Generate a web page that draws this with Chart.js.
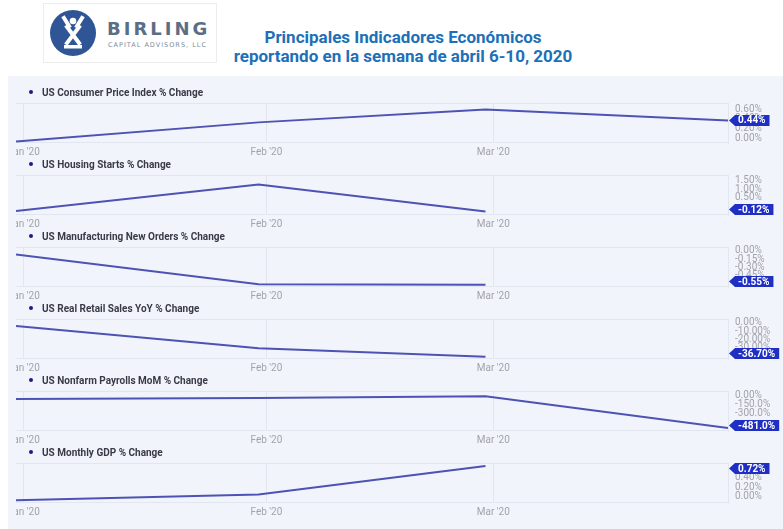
<!DOCTYPE html>
<html>
<head>
<meta charset="utf-8">
<script src="https://cdn.jsdelivr.net/npm/chart.js@4.4.1/dist/chart.umd.min.js"></script>
<style>
  body { margin: 0; width: 783px; height: 529px; background: #fff; position: relative; overflow: hidden; font-family: Roboto, sans-serif; }
  #logo { position: absolute; left: 43px; top: 3px; width: 172px; height: 58px; border: 1px solid #ededed; background: #fff; }
  #logo svg { position: absolute; left: 6px; top: 4px; }
  #logo .name { position: absolute; left: 63px; top: 14px; font: bold 18px "DejaVu Sans", sans-serif; letter-spacing: 3px; color: #5a6e86; }
  #logo .sub { position: absolute; left: 64px; top: 37px; font: 6.5px "DejaVu Sans", sans-serif; letter-spacing: 1px; color: #7d8c9c; }
  #title { position: absolute; left: 200px; width: 406px; top: 28px; text-align: center; font: bold 17px Roboto, sans-serif; line-height: 19px; color: #1d70b8; }
  #board { position: absolute; left: 8px; top: 76px; width: 775px; height: 453px; background: #f1f5fb; }
  canvas { position: absolute; left: 16px; }
  .legend { position: absolute; left: 29px; height: 12px; line-height: 12px; font: bold 10px Roboto, sans-serif; color: #3a3a46; white-space: nowrap; }
  .legend i { display: inline-block; width: 4px; height: 4px; border-radius: 50%; background: #1b1b8e; margin-right: 9px; vertical-align: middle; position: relative; top: -1px; }
</style>
</head>
<body>
<div id="logo">
  <svg width="50" height="50" viewBox="0 0 50 50">
    <circle cx="23" cy="25" r="23" fill="#2f5596"/>
    <circle cx="23" cy="13" r="3.3" fill="#fff"/>
    <path d="M14 10 L19 18 M32 10 L27 18 M17 19 L29 35 M29 19 L17 35" stroke="#fff" stroke-width="4" stroke-linecap="square"/>
    <rect x="14" y="37" width="18" height="3.5" fill="#fff"/>
  </svg>
  <span class="name">BIRLING</span>
  <span class="sub">CAPITAL ADVISORS, LLC</span>
</div>
<div id="title">Principales Indicadores Económicos<br>reportando en la semana de abril 6-10, 2020</div>
<div id="board"></div>
<script>
// x positions are days counted from the first point
const pointDays = [0, 31, 60, 91];
const tickDays = [1, 32, 61];
const monthLabels = ["Jan '20", "Feb '20", "Mar '20"];

const seriesNames = [
  'US Consumer Price Index % Change',
  'US Housing Starts % Change',
  'US Manufacturing New Orders % Change',
  'US Real Retail Sales YoY % Change',
  'US Nonfarm Payrolls MoM % Change',
  'US Monthly GDP % Change'
];

const cpiValues = [0.0, 0.40, 0.67, 0.44];
const housingValues = [-0.09, 1.48, -0.12];
const ordersValues = [0.0, -0.54, -0.55];
const retailValues = [0.5, -26.5, -36.7];
const payrollValues = [2, 18, 47, -481.0];
const gdpValues = [0.0, 0.12, 0.72];

const cpiTicks = [0, 0.2, 0.4, 0.6];
const housingTicks = [0.5, 1.0, 1.5];
const ordersTicks = [-0.45, -0.30, -0.15, 0];
const retailTicks = [-30, -20, -10, 0];
const payrollTicks = [-300, -150, 0];
const gdpTicks = [0, 0.2, 0.4, 0.6];

const panels = [
  { values: cpiValues, ticks: cpiTicks, min: -0.031, max: 0.805 },
  { values: housingValues, ticks: housingTicks, min: -0.33, max: 2.05 },
  { values: ordersValues, ticks: ordersTicks, min: -0.591, max: 0.136 },
  { values: retailValues, ticks: retailTicks, min: -39.5, max: 9.1 },
  { values: payrollValues, ticks: payrollTicks, min: -531.7, max: 135 },
  { values: gdpValues, ticks: gdpTicks, min: -0.059, max: 0.783 }
];

Chart.defaults.font.family = 'Roboto';

function fmt(v) {
  return v.toFixed(Math.abs(v) >= 100 ? 1 : 2) + '%';
}

const gridColor = '#e2e7ef';

// frame lines plus the blue flag with the latest value
const lastValueTag = {
  id: 'lastValueTag',
  beforeDatasetsDraw(chart) {
    const { ctx, chartArea } = chart;
    ctx.save();
    ctx.strokeStyle = gridColor;
    ctx.lineWidth = 1;
    ctx.beginPath();
    ctx.moveTo(chartArea.left, chartArea.top + 0.5);
    ctx.lineTo(chartArea.right, chartArea.top + 0.5);
    ctx.moveTo(chartArea.left, chartArea.bottom - 0.5);
    ctx.lineTo(chartArea.right, chartArea.bottom - 0.5);
    ctx.stroke();
    ctx.restore();
  },
  afterDraw(chart) {
    const { ctx, chartArea, scales } = chart;
    const data = chart.data.datasets[0].data;
    const last = data[data.length - 1].y;
    const h = 11;
    let y = scales.y.getPixelForValue(last);
    y = Math.min(Math.max(y, chartArea.top + h / 2), chartArea.bottom - h / 2);
    const text = fmt(last);
    ctx.save();
    ctx.font = 'bold 10px Roboto';
    const w = ctx.measureText(text).width;
    const x0 = chartArea.right + 1;
    ctx.fillStyle = '#1f2fc4';
    ctx.beginPath();
    ctx.moveTo(x0, y);
    ctx.lineTo(x0 + 6, y - h / 2);
    ctx.lineTo(x0 + 13 + w, y - h / 2);
    ctx.lineTo(x0 + 13 + w, y + h / 2);
    ctx.lineTo(x0 + 6, y + h / 2);
    ctx.closePath();
    ctx.fill();
    ctx.fillStyle = '#fff';
    ctx.textBaseline = 'middle';
    ctx.fillText(text, x0 + 9, y + 0.5);
    ctx.restore();
  }
};

panels.forEach(function (p, i) {
  const top = 85 + i * 72;

  const canvas = document.createElement('canvas');
  canvas.width = 767;
  canvas.height = 72;
  canvas.style.top = top + 'px';
  document.body.appendChild(canvas);

  const legend = document.createElement('div');
  legend.className = 'legend';
  legend.style.top = (top + 2) + 'px';
  legend.innerHTML = '<i></i>';
  legend.appendChild(document.createTextNode(seriesNames[i]));
  document.body.appendChild(legend);

  new Chart(canvas, {
    type: 'line',
    data: {
      datasets: [{
        label: seriesNames[i],
        data: p.values.map(function (v, k) { return { x: pointDays[k], y: v }; }),
        borderColor: '#4e52b3',
        borderWidth: 2,
        pointRadius: 0,
        tension: 0,
        fill: false
      }]
    },
    options: {
      responsive: false,
      animation: false,
      layout: { padding: { top: 18, left: 0, right: 0, bottom: 0 } },
      plugins: { legend: { display: false }, tooltip: { enabled: false } },
      scales: {
        x: {
          type: 'linear',
          min: 0,
          max: 91,
          afterBuildTicks: function (s) { s.ticks = tickDays.map(function (v) { return { value: v }; }); },
          afterFit: function (s) { s.height = 14; s.paddingLeft = 0; s.paddingRight = 0; },
          ticks: {
            callback: function (v, idx) { return monthLabels[idx]; },
            color: '#a2a2aa',
            font: { size: 10 },
            padding: 3,
            maxRotation: 0,
            autoSkip: false
          },
          grid: { color: gridColor, drawTicks: false },
          border: { display: false }
        },
        y: {
          position: 'right',
          min: p.min,
          max: p.max,
          afterBuildTicks: function (s) { s.ticks = p.ticks.map(function (v) { return { value: v }; }); },
          afterFit: function (s) { s.width = 55; s.paddingTop = 0; s.paddingBottom = 0; },
          ticks: {
            callback: function (v) { return fmt(v); },
            color: '#a2a2aa',
            font: { size: 10 },
            padding: 7,
            labelOffset: -3.5,
            autoSkip: false
          },
          grid: { display: false, drawTicks: false },
          border: { display: true, color: gridColor }
        }
      }
    },
    plugins: [lastValueTag]
  });
});
</script>
</body>
</html>
